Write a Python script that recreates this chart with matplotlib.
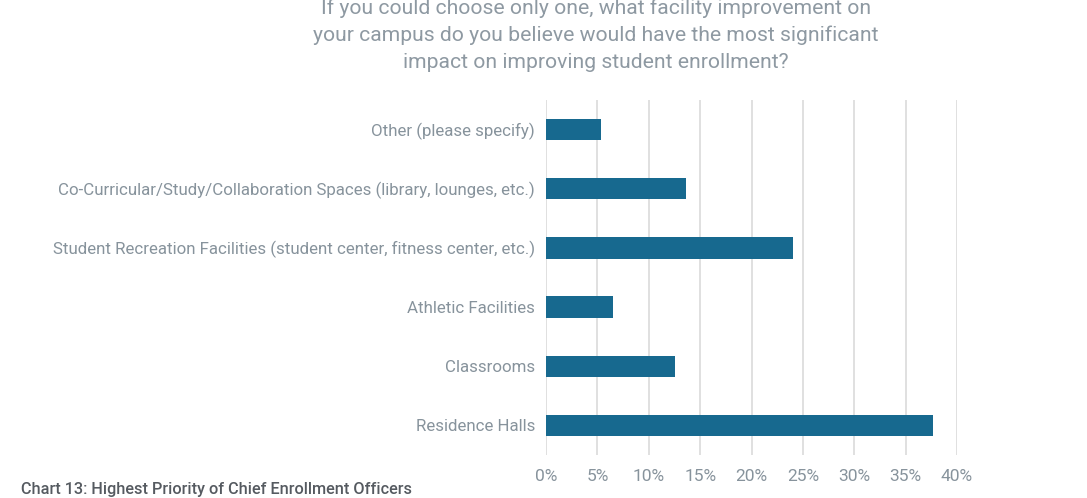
import matplotlib
matplotlib.use("Agg")
import matplotlib.pyplot as plt
from matplotlib.ticker import PercentFormatter

categories = [
    "Residence Halls",
    "Classrooms",
    "Athletic Facilities",
    "Student Recreation Facilities (student center, fitness center, etc.)",
    "Co-Curricular/Study/Collaboration Spaces (library, lounges, etc.)",
    "Other (please specify)",
]
values = [37.7, 12.6, 6.5, 24.0, 13.6, 5.4]
xticks = [0, 5, 10, 15, 20, 25, 30, 35, 40]

plt.rcParams['font.family'] = ['Roboto', 'DejaVu Sans']
text_col = "#87939c"
bar_col = "#17698f"

fig = plt.figure(figsize=(10.87, 4.98), dpi=100)
ax = fig.add_axes([546 / 1087, 1 - 455 / 498, (957 - 546) / 1087, 355 / 498])

ax.barh(range(len(categories)), values, height=0.36, color=bar_col, zorder=3)
ax.set_yticks(range(len(categories)))
ax.set_yticklabels(categories)
ax.set_ylim(-0.5, 5.5)
ax.set_xlim(0, 40)
ax.set_xticks(xticks)
ax.xaxis.set_major_formatter(PercentFormatter(decimals=0))
ax.grid(axis="x", color="#dddddd", linewidth=1.3, zorder=0)
for s in ax.spines.values():
    s.set_visible(False)
ax.tick_params(axis="both", length=0, colors=text_col, labelsize=12.5)
ax.tick_params(axis="y", pad=8, labelsize=12.2)
ax.tick_params(axis="x", pad=10)

fig.text(596 / 1087, 1 - 35 / 498,
         "If you could choose only one, what facility improvement on\n"
         "your campus do you believe would have the most significant\n"
         "impact on improving student enrollment?",
         ha="center", va="center", fontsize=15.2, color="#8e99a2", linespacing=1.5)
fig.text(21 / 1087, 1 - 489 / 498, "Chart 13: Highest Priority of Chief Enrollment Officers",
         ha="left", va="center", fontsize=11.7, color="#555a60", fontweight="medium")

fig.savefig("out.png", dpi=100)
